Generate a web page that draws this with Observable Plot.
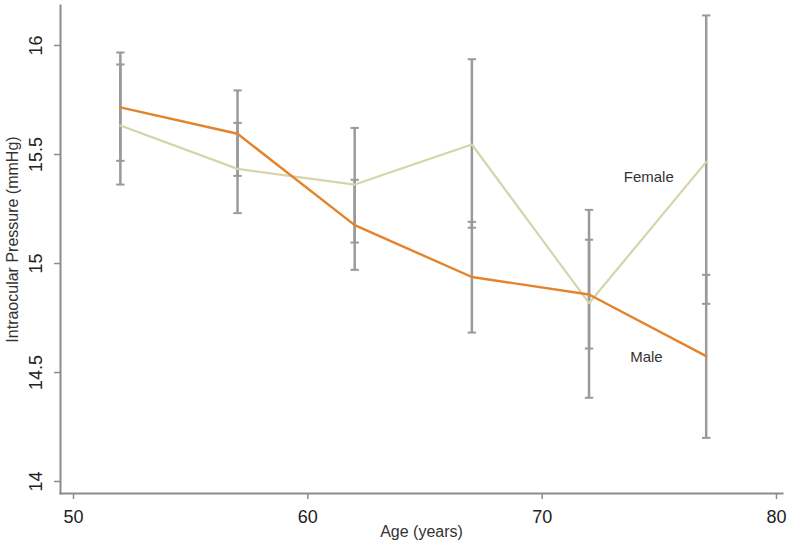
<!DOCTYPE html>
<html>
<head>
<meta charset="utf-8">
<script src="https://cdn.jsdelivr.net/npm/d3@7"></script>
<script src="https://cdn.jsdelivr.net/npm/@observablehq/plot@0.6"></script>
<style>
  html, body { margin: 0; padding: 0; background: #fff; }
  svg { display: block; font-family: "Liberation Sans", Arial, sans-serif; }
</style>
</head>
<body>
<div id="chart"></div>
<script>
// Age group midpoints (years)
const ages = [52, 57, 62, 67, 72, 77];

// Male series: mean IOP and confidence bounds (mmHg)
const maleMean = [15.716, 15.595, 15.176, 14.938, 14.858, 14.575];
const maleLow  = [15.471, 15.402, 14.971, 14.683, 14.610, 14.200];
const maleHigh = [15.968, 15.794, 15.384, 15.191, 15.109, 14.948];

// Female series: mean IOP and confidence bounds (mmHg)
const femaleMean = [15.633, 15.434, 15.362, 15.546, 14.818, 15.466];
const femaleLow  = [15.362, 15.231, 15.096, 15.164, 14.384, 14.815];
const femaleHigh = [15.913, 15.645, 15.622, 15.937, 15.246, 16.138];

// Axis ticks
const xTicks = [50, 60, 70, 80];
const yTicks = [14, 14.5, 15, 15.5, 16];
const yTickLabels = ["14", "14.5", "15", "15.5", "16"];

// Series direct labels (text, anchor age, anchor value)
const labelText = ["Female", "Male"];
const labelAge = [74.55, 74.45];
const labelValue = [15.396, 14.57];

const male = ages.map((a, i) => ({age: a, mean: maleMean[i], lo: maleLow[i], hi: maleHigh[i]}));
const female = ages.map((a, i) => ({age: a, mean: femaleMean[i], lo: femaleLow[i], hi: femaleHigh[i]}));
const bars = [...female, ...male];
const labels = labelText.map((t, i) => ({text: t, age: labelAge[i], value: labelValue[i]}));

const capSymbol = {
  draw(context, size) {
    const r = 4.2;
    context.moveTo(-r, 0);
    context.lineTo(r, 0);
  }
};

const barColor = "#9a9a9a";
const axisColor = "#8c8c8c";

const chart = Plot.plot({
  width: 790,
  height: 544,
  marginLeft: 60,
  marginRight: 8,
  marginTop: 5,
  marginBottom: 51,
  style: {fontFamily: "'Liberation Sans', Arial, sans-serif", background: "#fff"},
  x: {domain: [50, 80], insetLeft: 13, insetRight: 6},
  y: {domain: [14, 16], insetTop: 40, insetBottom: 12},
  marks: [
    // error bars
    Plot.ruleX(bars, {x: "age", y1: "lo", y2: "hi", stroke: barColor, strokeWidth: 2.5}),
    Plot.dot(bars, {x: "age", y: "lo", symbol: capSymbol, r: 4, stroke: barColor, strokeWidth: 2, fill: "none"}),
    Plot.dot(bars, {x: "age", y: "hi", symbol: capSymbol, r: 4, stroke: barColor, strokeWidth: 2, fill: "none"}),
    // series lines
    Plot.line(female, {x: "age", y: "mean", stroke: "#d5d5ab", strokeWidth: 2.2}),
    Plot.line(male, {x: "age", y: "mean", stroke: "#e4832c", strokeWidth: 2.4}),
    // direct labels
    Plot.text(labels, {x: "age", y: "value", text: "text", fontSize: 15, fill: "#333"}),
    // axis frame lines
    Plot.frame({anchor: "left", stroke: axisColor, strokeWidth: 2}),
    Plot.frame({anchor: "bottom", stroke: axisColor, strokeWidth: 2}),
    // x axis
    Plot.axisX({ticks: xTicks, tickSize: 6, tickPadding: 11, fontSize: 18, color: "#222", stroke: axisColor, strokeWidth: 1.5, label: null, tickFormat: d => String(d)}),
    // y axis ticks (labels drawn separately, rotated)
    Plot.axisY({ticks: yTicks, tickSize: 6, tickFormat: () => "", stroke: axisColor, strokeWidth: 1.5, label: null}),
    Plot.text(yTicks, {y: d => d, text: (d, i) => yTickLabels[i], frameAnchor: "left", dx: -24, rotate: -90, fontSize: 18, fill: "#222", textAnchor: "middle", lineAnchor: "middle"}),
    // axis titles
    Plot.text(["Age (years)"], {frameAnchor: "bottom", dy: 38, fontSize: 16, fill: "#333", textAnchor: "middle", lineAnchor: "middle"}),
    Plot.text(["Intraocular Pressure (mmHg)"], {frameAnchor: "left", dx: -48, dy: -10, rotate: -90, fontSize: 16, fill: "#333", textAnchor: "middle", lineAnchor: "middle"})
  ]
});

document.getElementById("chart").appendChild(chart);
</script>
</body>
</html>
